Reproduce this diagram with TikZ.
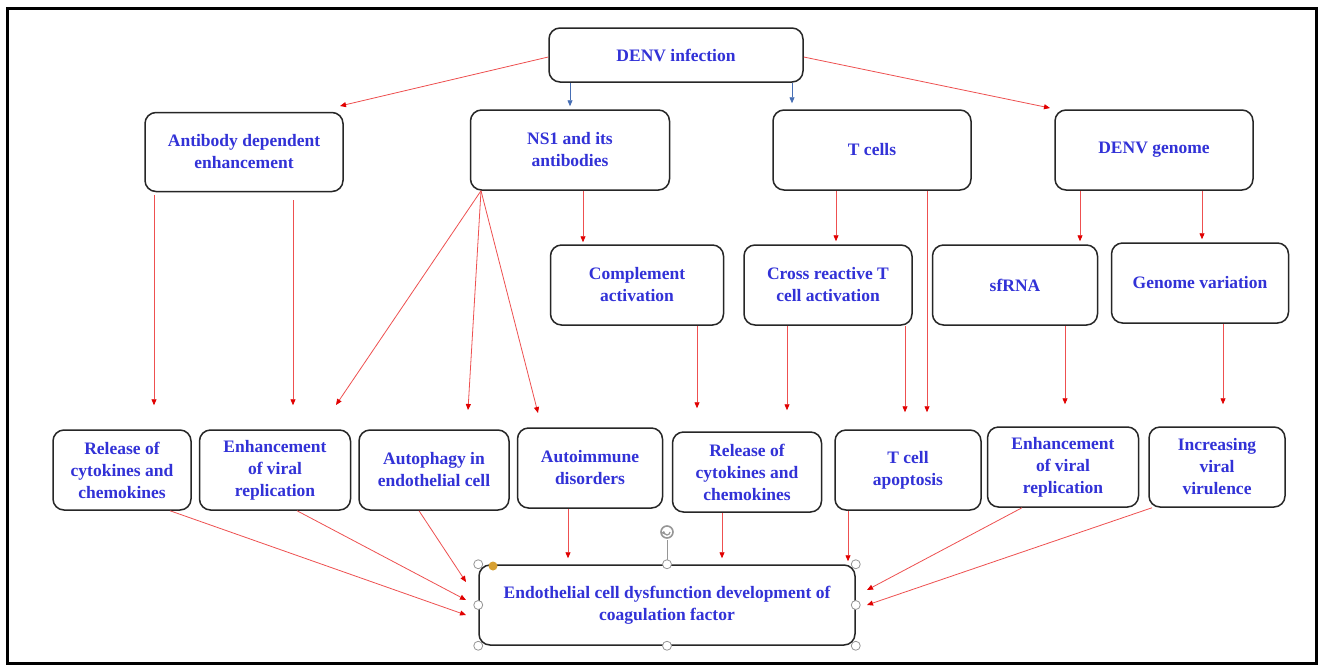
\documentclass[tikz,border=0pt]{standalone}
\usepackage{fontspec}
\setmainfont{Liberation Serif}
\usetikzlibrary{arrows.meta,calc}
\definecolor{txtblue}{RGB}{50,50,215}
\definecolor{lnred}{RGB}{238,80,80}
\definecolor{tipred}{RGB}{225,0,0}
\definecolor{lnblue}{RGB}{70,110,180}
\definecolor{hdl}{RGB}{150,150,150}
\definecolor{hdlor}{RGB}{215,160,50}
\tikzset{
  box/.style={draw=black!85, line width=1.5pt, rounded corners=11pt, fill=white, align=center,
    font=\fontsize{17.5}{22}\selectfont\bfseries, text=txtblue, inner sep=0pt},
  arr/.style={draw=lnred, line width=0.8pt, -{Triangle[length=6pt,width=5pt,color=tipred,fill=tipred]}},
  barr/.style={draw=lnblue, line width=0.8pt, -{Triangle[length=6pt,width=5pt,color=lnblue,fill=lnblue]}},
  handle/.style={circle, draw=hdl, fill=white, line width=0.8pt, minimum size=9pt, inner sep=0pt},
}
\begin{document}
\begin{tikzpicture}[x=1pt,y=-1pt]
\useasboundingbox (0,0) rectangle (1323,665);
\fill[white] (0,0) rectangle (1323,665);
\draw[black, line width=3pt] (7,8) rectangle (1316,663);

% top
\node[box, minimum width=254pt, minimum height=54pt] (denv) at (676,55) {DENV infection};
% level 1
\node[box, minimum width=198pt, minimum height=79pt] (ade) at (244,152) {Antibody dependent\\enhancement};
\node[box, minimum width=199pt, minimum height=80pt] (ns1) at (570,150) {NS1 and its\\antibodies};
\node[box, minimum width=198pt, minimum height=80pt] (tc) at (872,150) {T cells};
\node[box, minimum width=198pt, minimum height=80pt] (gen) at (1154,150) {DENV genome};
% level 2
\node[box, minimum width=173pt, minimum height=80pt] (comp) at (637,285) {Complement\\activation};
\node[box, minimum width=168pt, minimum height=80pt] (cross) at (828,285) {Cross reactive T\\cell activation};
\node[box, minimum width=165pt, minimum height=80pt] (sf) at (1015,285) {sfRNA};
\node[box, minimum width=177pt, minimum height=80pt] (gv) at (1200,283) {Genome variation};
% level 3
\node[box, minimum width=138pt, minimum height=80pt] (rel1) at (122,470) {Release of\\cytokines and\\chemokines};
\node[box, minimum width=151pt, minimum height=80pt] (enh1) at (275,470) {Enhancement\\of viral\\replication};
\node[box, minimum width=150pt, minimum height=80pt] (auto) at (434,470) {Autophagy in\\endothelial cell};
\node[box, minimum width=145pt, minimum height=80pt] (aid) at (590,468) {Autoimmune\\disorders};
\node[box, minimum width=149pt, minimum height=80pt] (rel2) at (747,472) {Release of\\cytokines and\\chemokines};
\node[box, minimum width=146pt, minimum height=80pt] (tap) at (908,470) {T cell\\apoptosis};
\node[box, minimum width=151pt, minimum height=80pt] (enh2) at (1063,467) {Enhancement\\of viral\\replication};
\node[box, minimum width=136pt, minimum height=80pt] (inc) at (1217,467) {Increasing\\viral\\virulence};
% bottom
\node[box, minimum width=376pt, minimum height=80pt] (endo) at (667,605) {Endothelial cell dysfunction development of\\coagulation factor};

% selection handles
\draw[hdl, line width=0.8pt] (endo.north) -- (667,540);
\node[circle, draw=hdl, line width=1.6pt, minimum size=12pt, inner sep=0pt] (rot) at (667,532) {};
\draw[hdl, line width=1.2pt, -{Triangle[length=3pt,width=4pt]}] (rot.center) ++(0:3pt) arc[start angle=0, end angle=-200, radius=3pt];
\node[handle] (h1) at (endo.north west) {};
\node[handle] (h2) at (endo.north) {};
\node[handle] (h3) at (endo.north east) {};
\node[handle] (h4) at (endo.west) {};
\node[handle] (h5) at (endo.east) {};
\node[handle] (h6) at (endo.south west) {};
\node[handle] (h7) at (endo.south) {};
\node[handle] (h8) at (endo.south east) {};
\node[circle, fill=hdlor, minimum size=9pt, inner sep=0pt] (hor) at (493,566) {};

% free-end coordinates
\coordinate (e1) at (340,106);
\coordinate (e2) at (1050,108);
\coordinate (n1) at (336,405);
\coordinate (n2) at (468,410);
\coordinate (n3) at (538,413);
\coordinate (l1) at (466,615);
\coordinate (l2) at (466,600);
\coordinate (l3) at (466,582);
\coordinate (r1) at (867,590);
\coordinate (r2) at (867,605);

% top edges
\draw[arr] (denv.west |- 0,57) -- (e1);
\draw[arr] (denv.east |- 0,57) -- (e2);
\draw[barr] (denv.south -| 570,0) -- ($(ns1.north -| 570,0)+(0,-3)$);
\draw[barr] (denv.south -| 792,0) -- ($(tc.north -| 792,0)+(0,-6)$);

% ADE
\draw[arr] ($(ade.south -| 154,0)+(0,3)$) -- ($(rel1.north -| 154,0)+(0,-24)$);
\draw[arr] ($(ade.south -| 293,0)+(0,8)$) -- ($(enh1.north -| 293,0)+(0,-24)$);
% NS1
\draw[arr] (ns1.south -| 481,0) -- (n1);
\draw[arr] (ns1.south -| 481,0) -- (n2);
\draw[arr] (ns1.south -| 481,0) -- (n3);
\draw[arr] (ns1.south -| 583,0) -- ($(comp.north -| 583,0)+(0,-2)$);
\draw[arr] (comp.south -| 697,0) -- ($(rel2.north -| 697,0)+(0,-23)$);
% T cells
\draw[arr] (tc.south -| 836,0) -- ($(cross.north -| 836,0)+(0,-3)$);
\draw[arr] (tc.south -| 927,0) -- ($(tap.north -| 927,0)+(0,-17)$);
\draw[arr] (cross.south -| 787,0) -- ($(rel2.north -| 787,0)+(0,-21)$);
\draw[arr] (cross.south -| 905,0) -- ($(tap.north -| 905,0)+(0,-17)$);
% genome
\draw[arr] (gen.south -| 1080,0) -- ($(sf.north -| 1080,0)+(0,-3)$);
\draw[arr] (gen.south -| 1202,0) -- ($(gv.north -| 1202,0)+(0,-3)$);
\draw[arr] (sf.south -| 1065,0) -- ($(enh2.north -| 1065,0)+(0,-22)$);
\draw[arr] (gv.south -| 1223,0) -- ($(inc.north -| 1223,0)+(0,-22)$);

% to endothelial
\draw[arr] (rel1.south -| 170,0) -- (l1);
\draw[arr] (enh1.south -| 297,0) -- (l2);
\draw[arr] (auto.south -| 419,0) -- (l3);
\draw[arr] (aid.south -| 568,0) -- ($(endo.north -| 568,0)+(0,-6)$);
\draw[arr] (rel2.south -| 722,0) -- ($(endo.north -| 722,0)+(0,-6)$);
\draw[arr] (tap.south -| 848,0) -- ($(endo.north -| 848,0)+(0,-3)$);
\draw[arr] (enh2.south -| 1022,0) -- (r1);
\draw[arr] (inc.south -| 1152,0) -- (r2);
\end{tikzpicture}
\end{document}
